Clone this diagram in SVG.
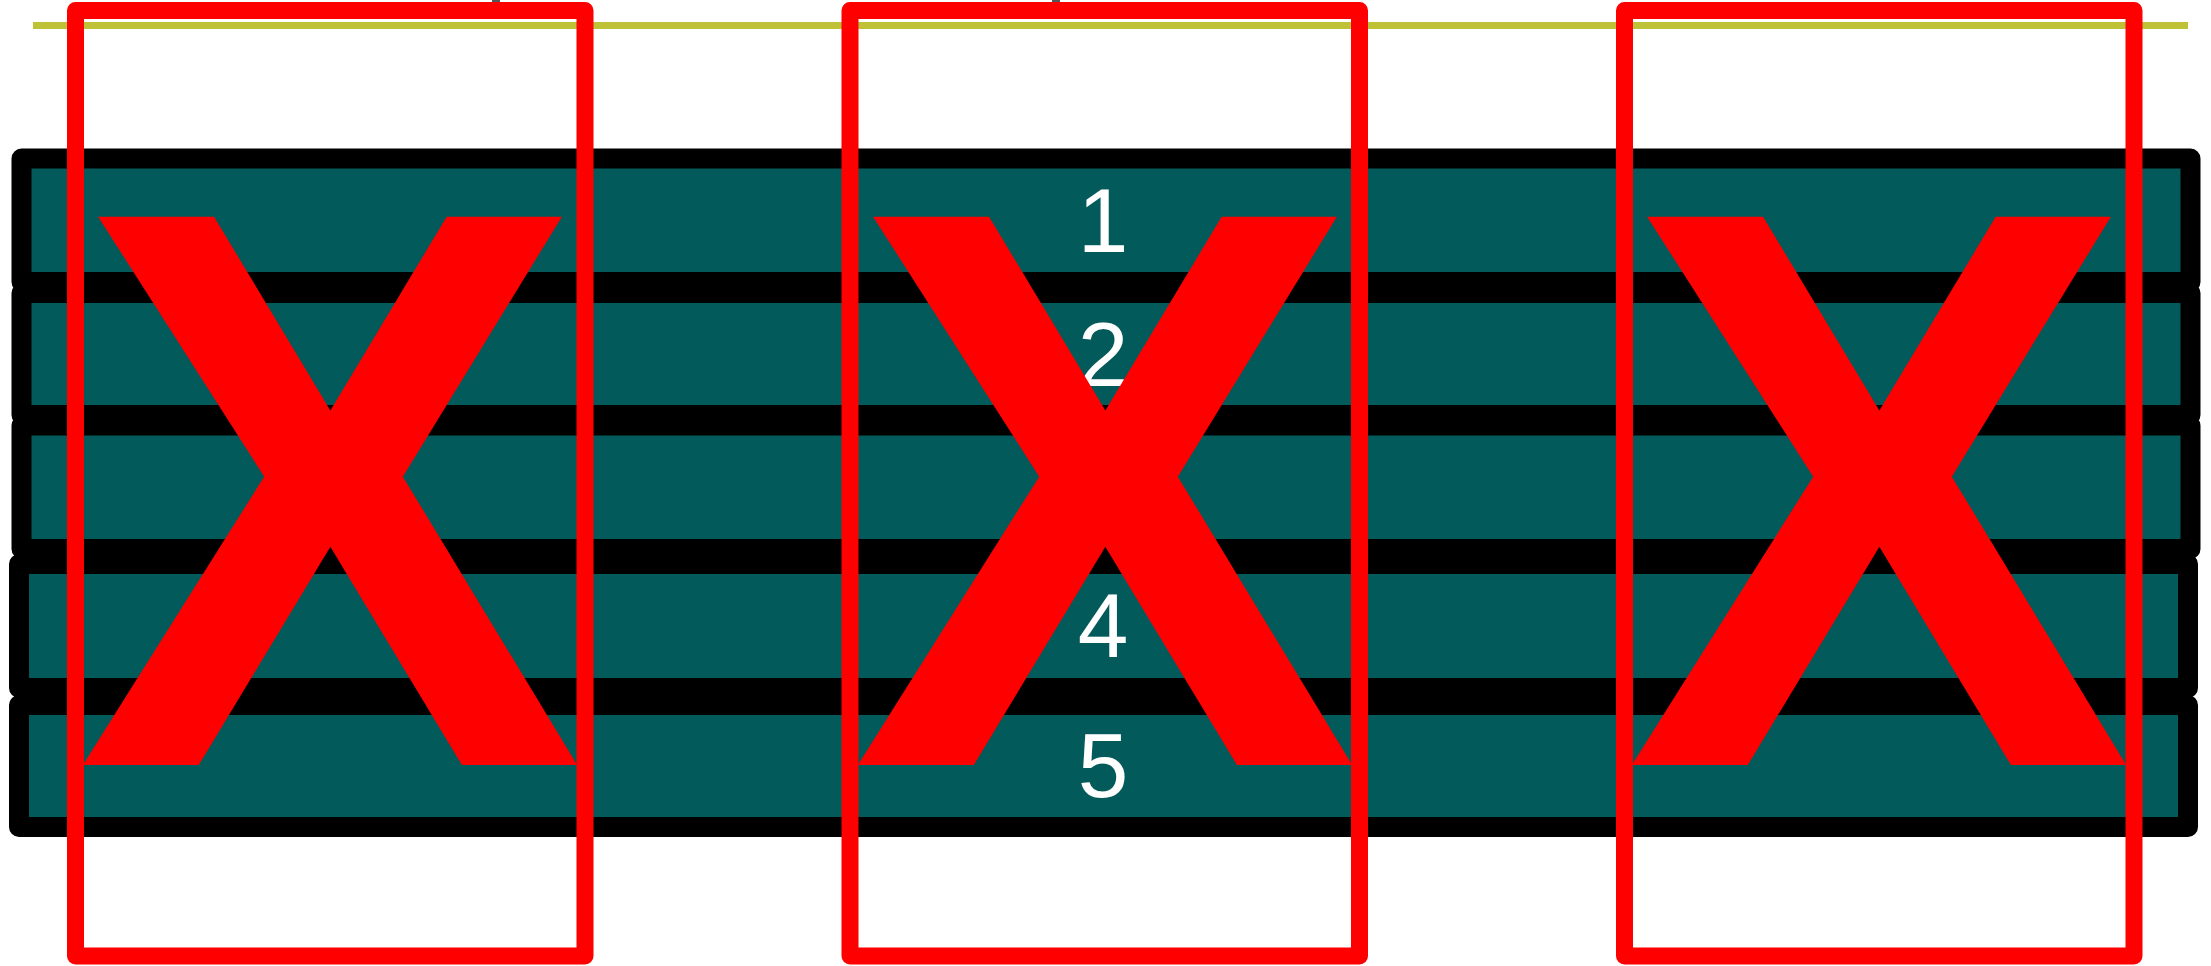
<svg xmlns="http://www.w3.org/2000/svg" width="2211" height="966" viewBox="0 0 2211 966">
<style>
.pad{fill:#035a5a;stroke:#000;stroke-width:20;stroke-linejoin:round}
.num{fill:#fff;font-family:"Liberation Sans",Arial,sans-serif;font-size:91px;text-anchor:middle}
.box{fill:none;stroke:#ff0000;stroke-width:17;stroke-linejoin:round}
.xm{fill:#ff0000;font-family:"Liberation Sans",Arial,sans-serif;font-weight:bold;font-size:797px;text-anchor:middle}
.tick{fill:#555}
</style>
<rect width="2211" height="966" fill="#fff"/>
<g id="ticks">
<rect class="tick" x="492" y="0" width="8" height="2"/>
<rect class="tick" x="1052" y="0" width="8" height="2"/>
</g>
<g id="guide">
<line x1="33" y1="25.5" x2="2188" y2="25.5" stroke="#bfc236" stroke-width="7"/>
</g>
<g id="pad1"><rect class="pad" x="21.5" y="158.5" width="2169" height="123.5"/><text class="num" x="1103" y="252">1</text></g>
<g id="pad2"><rect class="pad" x="21.5" y="293" width="2169" height="122"/><text class="num" x="1103" y="385.5">2</text></g>
<g id="pad3"><rect class="pad" x="21.5" y="425.5" width="2169" height="123.5"/><text class="num" x="1103" y="518.5">3</text></g>
<g id="pad4"><rect class="pad" x="19" y="564" width="2169" height="124"/><text class="num" x="1103" y="657">4</text></g>
<g id="pad5"><rect class="pad" x="19" y="705" width="2169" height="122"/><text class="num" x="1103" y="797">5</text></g>
<g id="mark1"><rect class="box" x="75.5" y="10.5" width="509.5" height="945.5"/><text class="xm" transform="translate(330 765) scale(0.955 1)">X</text></g>
<g id="mark2"><rect class="box" x="850" y="10.5" width="509.5" height="945.5"/><text class="xm" transform="translate(1105 765) scale(0.955 1)">X</text></g>
<g id="mark3"><rect class="box" x="1624.5" y="10.5" width="509.5" height="945.5"/><text class="xm" transform="translate(1879 765) scale(0.955 1)">X</text></g>
<g id="connectors"/>
</svg>
